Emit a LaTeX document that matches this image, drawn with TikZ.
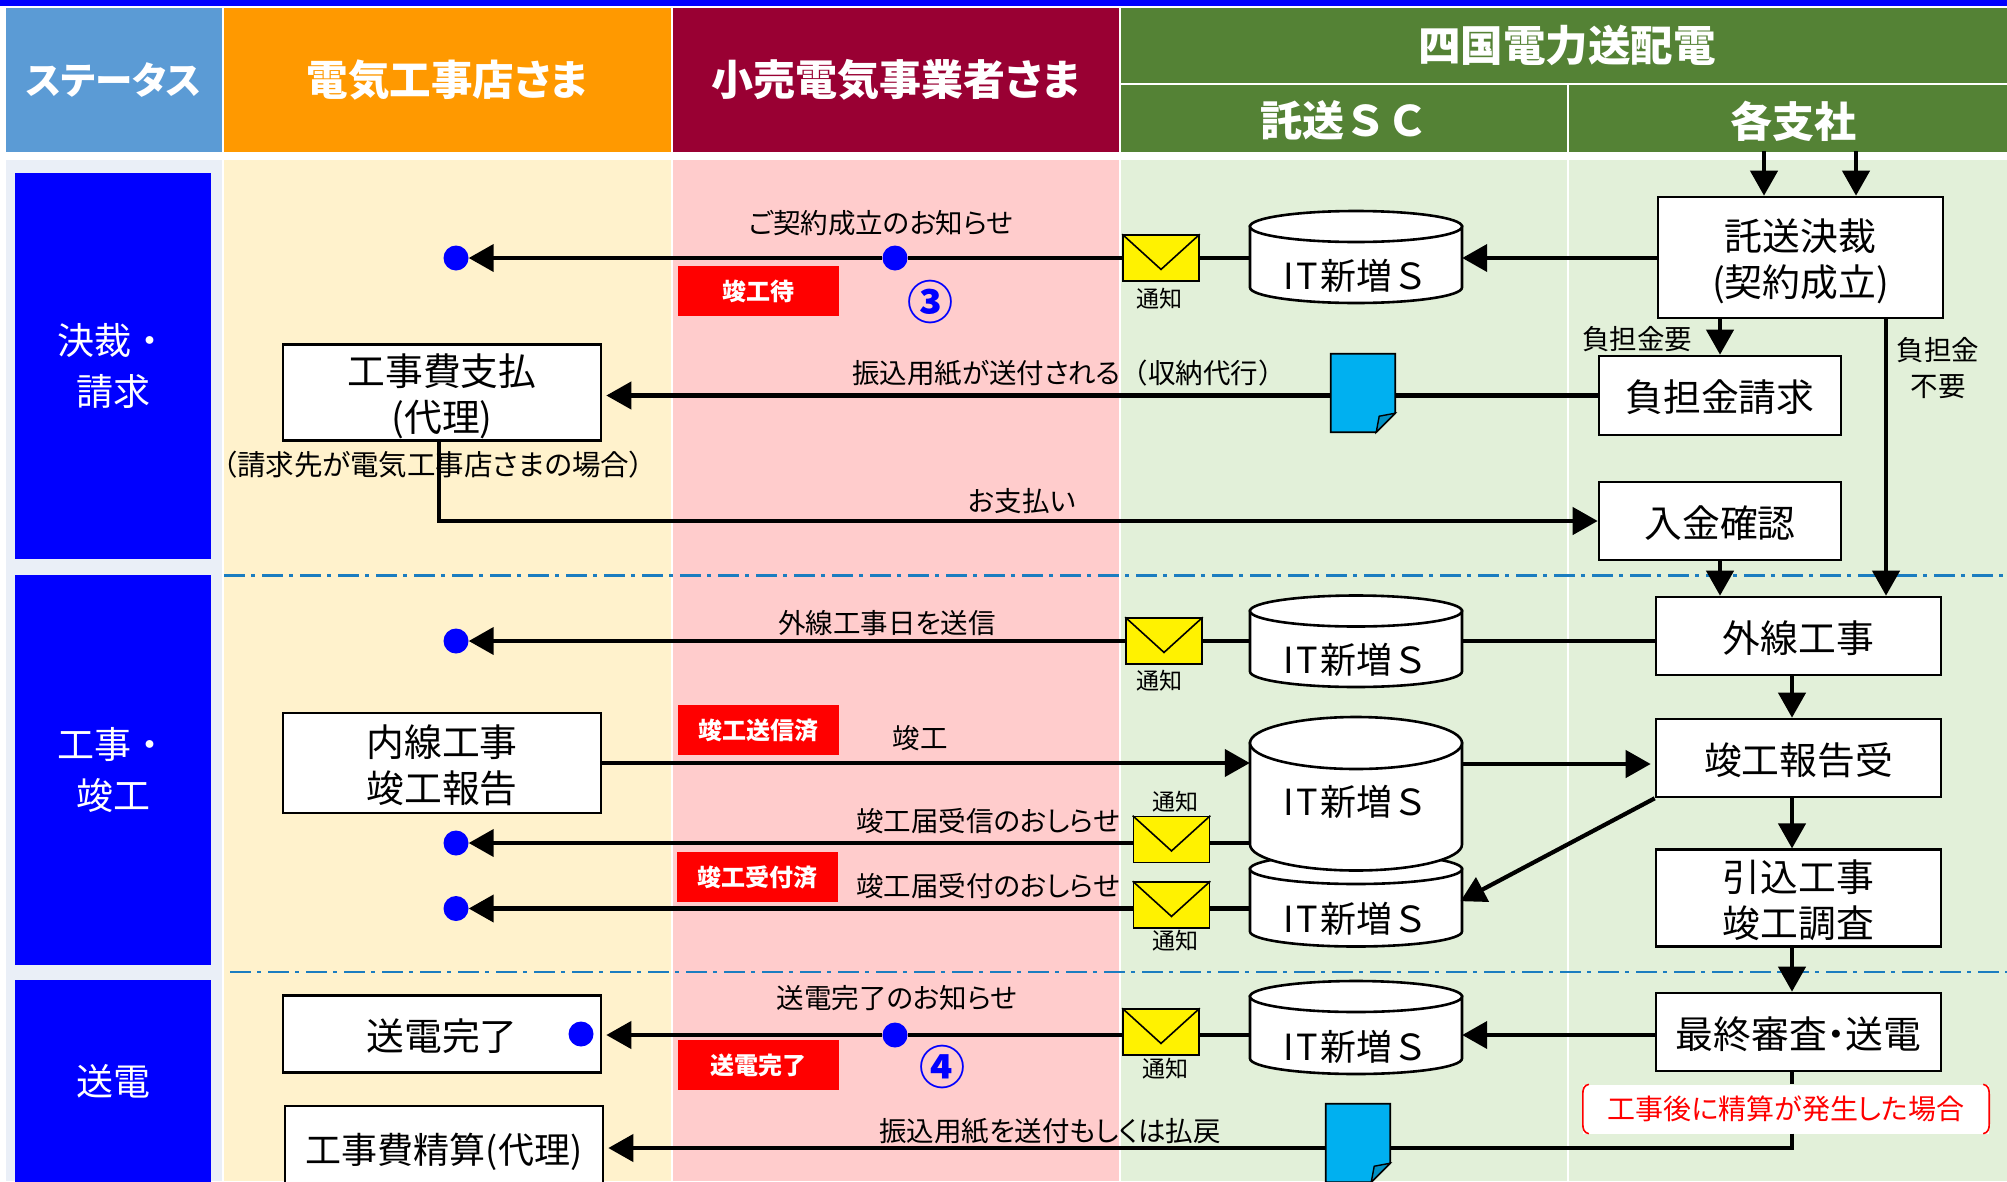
\documentclass[tikz,border=0pt]{standalone}
\usepackage{fontspec}
\setmainfont{Noto Sans CJK JP}[RawFeature=+palt]
\newfontfamily\fw{Noto Sans CJK JP}
\usetikzlibrary{arrows.meta,calc}
\newcommand{\fsz}[2]{\fontsize{#1}{#2}\selectfont}
\newcommand{\dn}[2][-7pt]{\raisebox{#1}[\height][\depth]{\begin{tabular}{@{}c@{}}#2\end{tabular}}}
\definecolor{hstatus}{HTML}{5B9BD5}
\definecolor{horange}{HTML}{FF9900}
\definecolor{hcrimson}{HTML}{990033}
\definecolor{hgreen}{HTML}{548235}
\definecolor{bstatus}{HTML}{EAEFF7}
\definecolor{byellow}{HTML}{FFF2CC}
\definecolor{bpink}{HTML}{FFCCCC}
\definecolor{bgreen}{HTML}{E2F0D9}
\definecolor{purebg}{HTML}{0000FF}
\definecolor{docblue}{HTML}{00B0F0}
\definecolor{docfold}{HTML}{0090C4}
\definecolor{dashblue}{HTML}{1B7DC0}
\tikzset{
  x=1pt,y=-1pt,
  cell/.style={rectangle,inner sep=0pt,outer sep=0pt,anchor=north west,align=center},
  head/.style={cell,text=white,font={\fsz{41.5}{48}\bfseries}},
  side/.style={cell,fill=purebg,text=white,font={\fsz{37}{51}}},
  pbox/.style={rectangle,draw=black,fill=white,line width=2.6pt,inner sep=0pt,font={\fsz{37.8}{46}}},
  lab/.style={inner sep=0pt,align=center,yshift=-1.5pt,font={\fsz{27.5}{36}}},
  small/.style={inner sep=0pt,font={\fsz{23}{28}}},
  tag/.style={rectangle,fill=red,text=white,inner sep=0pt,minimum width=161pt,minimum height=50pt,font={\fsz{24}{28}\bfseries}},
  dotn/.style={circle,fill=purebg,inner sep=0pt,minimum size=25pt},
  num/.style={inner sep=0pt,text=purebg,font={\fsz{46}{50}\bfseries}},
  env/.style={rectangle,draw=black,fill=yellow,line width=1.6pt,inner sep=0pt,minimum width=76pt,minimum height=46pt},
  docn/.style={rectangle,inner sep=0pt,minimum width=64pt,minimum height=78pt},
  conn/.style={line width=4.2pt,black},
  arr/.style={conn,-{Triangle[length=25pt,width=27pt]}},
  sepline/.style={line width=2.6pt,dashblue,dash pattern=on 21pt off 6pt on 4pt off 7pt}
}
% envelope: name, cx, cy
\newcommand{\envl}[3]{%
  \node[env] (#1) at (#2,#3) {};
  \draw[line width=1.6pt] (#1.north west) -- ($(#1.south)!0.26!(#1.north)$) -- (#1.north east);
}
% document: name, cx, cy
\newcommand{\docu}[3]{%
  \node[docn] (#1) at (#2,#3) {};
  \draw[line width=1.8pt,fill=docblue] (#1.north west) -- (#1.north east) -- ($(#1.south east)+(0,-19)$) -- ($(#1.south east)+(-19,0)$) -- (#1.south west) -- cycle;
  \draw[line width=1.4pt,fill=docfold] ($(#1.south east)+(0,-19)$) -- ($(#1.south east)+(-16,-16)$) -- ($(#1.south east)+(-19,0)$) -- cycle;
}
% cylinder: name, xl, xr, top, bottom, ry, baseline offset from centre
\newcommand{\cyl}[7]{%
  \pgfmathsetmacro{\cxx}{(#2+#3)/2}\pgfmathsetmacro{\cyy}{(#4+#5)/2}%
  \pgfmathsetmacro{\rxx}{(#3-#2)/2}\pgfmathsetmacro{\hhh}{#5-#4}\pgfmathsetmacro{\www}{#3-#2}%
  \draw[line width=2.6pt,fill=white] (#2,#4+#6) -- (#2,#5-#6)
    .. controls (#2,#5-0.45*#6) and (\cxx-0.55*\rxx,#5) .. (\cxx,#5)
    .. controls (\cxx+0.55*\rxx,#5) and (#3,#5-0.45*#6) .. (#3,#5-#6)
    -- (#3,#4+#6) -- cycle;
  \draw[line width=2.6pt,fill=white] (\cxx,#4+#6) ellipse [x radius=\rxx,y radius=#6];
  \node[rectangle,inner sep=0pt,minimum width=\www pt,minimum height=\hhh pt,font={\fsz{36}{40}\fw}] (#1) at (\cxx,\cyy) {\raisebox{#7pt}[0pt][0pt]{I\kern2pt T\kern2pt 新増Ｓ}};
}
\begin{document}
\begin{tikzpicture}
\useasboundingbox (0,0) rectangle (2007,1181);
\fill[white] (0,0) rectangle (2007,1181);
% backgrounds
\fill[purebg] (0,0) rectangle (2007,6);
\fill[bstatus] (6,160) rectangle (222,1181);
\fill[byellow] (224,160) rectangle (671,1181);
\fill[bpink] (673,160) rectangle (1119,1181);
\fill[bgreen] (1121,160) rectangle (1567,1181);
\fill[bgreen] (1569,160) rectangle (2007,1181);
% headers
\node[head,fill=hstatus,minimum width=216pt,minimum height=144pt,font={\fsz{37.5}{48}\bfseries}] (hs) at (6,7.5) {\dn[-5.5pt]{ステータス}};
\node[head,fill=horange,minimum width=447pt,minimum height=144pt] (ho) at (224,7.5) {\dn[-5.5pt]{電気工事店さま}};
\node[head,fill=hcrimson,minimum width=446pt,minimum height=144pt,font={\fsz{42}{48}\bfseries}] (hc) at (673,7.5) {\dn[-5.5pt]{小売電気事業者さま}};
\node[head,fill=hgreen,minimum width=887pt,minimum height=75pt,font={\fsz{42.5}{48}\bfseries}] (hg) at (1121,7.5) {\hspace*{5pt}\dn[-5.5pt]{四国電力送配電}};
\node[head,fill=hgreen,minimum width=446pt,minimum height=67pt,font={\fsz{42}{48}\bfseries\fw}] (ht) at (1121,84.5) {\dn[-8pt]{託送ＳＣ}};
\node[head,fill=hgreen,minimum width=438pt,minimum height=67pt,font={\fsz{42}{48}\bfseries}] (hb) at (1569,84.5) {\hspace*{10pt}\dn[-8pt]{各支社}};
% side labels
\node[side,minimum width=196pt,minimum height=386pt,font={\fsz{37}{51}\fw}] (s1) at (15,173) {決裁・\\請求};
\node[side,minimum width=196pt,minimum height=390pt,font={\fsz{37}{51}\fw}] (s2) at (15,575) {工事・\\竣工};
\node[side,minimum width=196pt,minimum height=202pt] (s3) at (15,980) {送電};
\begin{scope}[yshift=-1pt]
% separators
\coordinate (da) at (224,574.5); \coordinate (db) at (2007,574.5);
\coordinate (dc) at (230,971); \coordinate (dd) at (2007,971);
\draw[sepline] (da) -- (db);
\draw[sepline] (dc) -- (dd);
% row guides
\coordinate (r1) at (0,257);
\coordinate (r2) at (0,395);
\coordinate (r3) at (0,520);
\coordinate (r4) at (0,640);
\coordinate (r5) at (0,762);
\coordinate (r5b) at (0,763);
\coordinate (r6) at (0,842);
\coordinate (r7) at (0,907.5);
\coordinate (r8) at (0,1034);
\coordinate (r9) at (0,1147);
\coordinate (c1) at (1792,0);
\coordinate (c2) at (1886,0);
\coordinate (c3x) at (439,0);
\coordinate (ta) at (1764,150);
\coordinate (tb) at (1856,150);
% process boxes
\node[pbox,minimum width=318pt,minimum height=96pt] (kh) at (442,391.5) {\dn{工事費支払\\(代理)}};
\node[pbox,minimum width=285pt,minimum height=121pt] (tk) at (1800.5,256.5) {\dn{託送決裁\\(契約成立)}};
\node[pbox,minimum width=242pt,minimum height=79pt] (fk) at (1720,394.5) {\dn{負担金請求}};
\node[pbox,minimum width=242pt,minimum height=78pt] (nk) at (1720,520) {\dn{入金確認}};
\node[pbox,minimum width=285pt,minimum height=78pt] (gs) at (1798.5,635) {\dn{外線工事}};
\node[pbox,minimum width=285pt,minimum height=78pt] (sh) at (1798.5,757) {\dn{竣工報告受}};
\node[pbox,minimum width=285pt,minimum height=96.5pt] (hk) at (1798.5,897) {\dn{引込工事\\竣工調査}};
\node[pbox,minimum width=285pt,minimum height=78pt] (ss) at (1798.5,1031) {\dn{最終審査・送電}};
\node[pbox,minimum width=318pt,minimum height=100pt] (ns) at (442,762) {\dn{内線工事\\竣工報告}};
\node[pbox,minimum width=318pt,minimum height=76.5pt] (sk) at (442,1033) {\dn{送電完了}};
\node[pbox,minimum width=318pt,minimum height=86pt,font={\fsz{36}{44}}] (ks) at (444,1148) {\dn[-6pt]{工事費精算(代理)}};
% databases
\cyl{c5}{1250}{1462}{853}{945.5}{15}{-32}
\cyl{c1a}{1250}{1462}{210}{302}{15.5}{-32.5}
\cyl{c2a}{1250}{1462}{594.5}{686}{15.5}{-32.5}
\cyl{c3}{1250}{1462}{716}{869.5}{26}{-21.5}
\cyl{c4}{1250}{1462}{980}{1073}{15.5}{-32.5}
% envelopes and slips
\envl{e1}{1161}{257}
\envl{e2}{1164}{640}
\envl{e3}{1171.5}{838.5}
\envl{e4}{1171.5}{904}
\envl{e5}{1161}{1031}
\docu{d1}{1363}{392}
\docu{d2}{1358}{1142}
% dots
\node[dotn] (p1) at (456,257) {};
\node[dotn] (p1b) at (895,257) {};
\node[dotn] (p2) at (456,640) {};
\node[dotn] (p3) at (456,842) {};
\node[dotn] (p4) at (456,907.5) {};
\node[dotn] (p5) at (581,1033) {};
\node[dotn] (p5b) at (895,1034) {};
% note
\node[rectangle,fill=white,inner sep=0pt,minimum width=406pt,minimum height=49pt,text=red,font={\fsz{28}{32}}] (nt) at (1786,1108) {\dn[-3.5pt]{工事後に精算が発生した場合}};
\draw[red,line width=1.6pt] ($(nt.north west)+(6,0)$) .. controls ($(nt.north west)+(1,1)$) and ($(nt.north west)+(0,5)$) .. ($(nt.north west)+(0,10)$) -- ($(nt.south west)+(0,-10)$) .. controls ($(nt.south west)+(0,-5)$) and ($(nt.south west)+(1,-1)$) .. ($(nt.south west)+(6,0)$);
\draw[red,line width=1.6pt] ($(nt.north east)+(-6,0)$) .. controls ($(nt.north east)+(-1,1)$) and ($(nt.north east)+(0,5)$) .. ($(nt.north east)+(0,10)$) -- ($(nt.south east)+(0,-10)$) .. controls ($(nt.south east)+(0,-5)$) and ($(nt.south east)+(-1,-1)$) .. ($(nt.south east)+(-6,0)$);
% tags
\node[tag] (t1) at (758.5,290) {竣工待};
\node[tag] (t2) at (758.5,729) {竣工送信済};
\node[tag] (t3) at (757.5,876) {竣工受付済};
\node[tag] (t4) at (758.5,1064) {送電完了};
\node[num] (n3) at (930,301) {③};
\node[num] (n4) at (942,1066) {④};
% labels
\node[lab] (l1) at (881,221) {ご契約成立のお知らせ};
\node[lab] (l2) at (1069,371) {振込用紙が送付される{\fw （}収納代行{\fw ）}};
\node[lab,font={\fsz{28.5}{36}}] (l3) at (433,462) {（請求先が電気工事店さまの場合）};
\node[lab] (l4) at (1022,499) {お支払い};
\node[lab] (l5) at (887,621) {外線工事日を送信};
\node[lab] (l6) at (920,736) {竣工};
\node[lab] (l7) at (988,819) {竣工届受信のおしらせ};
\node[lab] (l8) at (988,884) {竣工届受付のおしらせ};
\node[lab] (l9) at (897,996) {送電完了のお知らせ};
\node[lab] (l10) at (1050,1129) {振込用紙を送付もしくは払戻};
\node[lab] (l11) at (1637,337) {負担金要};
\node[lab] (l12) at (1938,366) {負担金\\不要};
\node[small] (u1) at (1159,298) {通知};
\node[small] (u2) at (1159,679.5) {通知};
\node[small] (u3) at (1175,801) {通知};
\node[small] (u4) at (1175,940) {通知};
\node[small] (u5) at (1165,1068) {通知};
% connectors
\draw[arr] (ta) -- (ta |- tk.north);
\draw[arr] (tb) -- (tb |- tk.north);
\draw[arr] (tk.west |- r1) -- (c1a.east |- r1);
\draw[conn] (c1a.west |- r1) -- (e1.east);
\draw[conn] (e1.west) -- (p1b.east);
\draw[arr] (p1b.west) -- (p1.east);
\draw[arr] (fk.north |- tk.south) -- (fk.north);
\draw[arr] (c2 |- tk.south) -- (c2 |- gs.north);
\draw[conn] (fk.west) -- (d1.east |- fk.west);
\draw[arr,shorten >=4pt] (d1.west |- fk.west) -- (kh.east |- fk.west);
\draw[arr] (c3x |- kh.south) -- (c3x |- nk.west) -- (nk.west);
\draw[arr] (nk.south) -- (nk.south |- gs.north);
\draw[conn] (gs.west |- r4) -- (c2a.east |- r4);
\draw[conn] (c2a.west |- r4) -- (e2.east |- r4);
\draw[arr] (e2.west |- r4) -- (p2.east);
\draw[arr] (c1 |- gs.south) -- (c1 |- sh.north);
\draw[arr] (c1 |- sh.south) -- (c1 |- hk.north);
\draw[arr] (c1 |- hk.south) -- (c1 |- ss.north);
\draw[arr] (ns.east) -- (c3.west |- ns.east);
\draw[arr,shorten >=4pt] (c3.east |- r5b) -- (sh.west |- r5b);
\draw[conn] (c3.west |- r6) -- (e3.east |- r6);
\draw[arr] (e3.west |- r6) -- (p3.east);
\draw[conn] (c5.west |- r7) -- (e4.east |- r7);
\draw[arr] (e4.west |- r7) -- (p4.east);
\draw[arr,shorten >=-2pt] (sh.south west) -- (c5.east);
\draw[arr] (ss.west |- r8) -- (c4.east |- r8);
\draw[conn] (c4.west |- r8) -- (e5.east |- r8);
\draw[conn] (e5.west |- r8) -- (p5b.east);
\draw[arr,shorten >=4pt] (p5b.west) -- (sk.east |- r8);
\draw[conn] (c1 |- ss.south) -- (c1 |- nt.north);
\draw[conn] (c1 |- nt.south) -- (c1 |- r9) -- (d2.east |- r9);
\draw[arr,shorten >=4pt] (d2.west |- r9) -- (ks.east |- r9);
\end{scope}
\end{tikzpicture}
\end{document}
